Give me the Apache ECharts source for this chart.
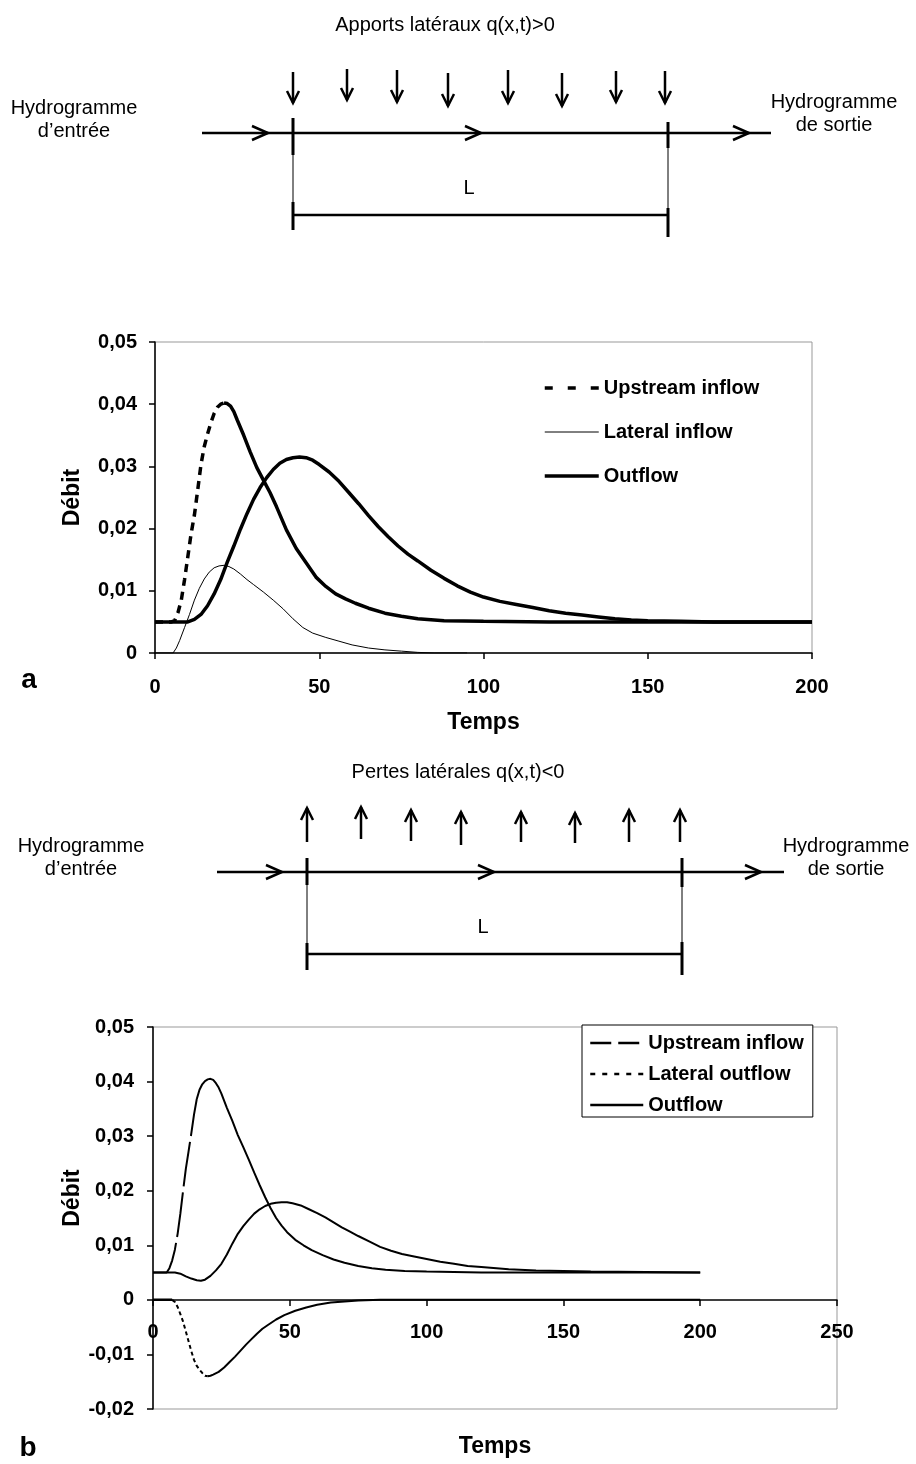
<!DOCTYPE html>
<html>
<head>
<meta charset="utf-8">
<title>Hydrogrammes - apports et pertes latéraux</title>
<script src="https://cdn.jsdelivr.net/npm/echarts@6/dist/echarts.min.js"></script>
<style>
  html, body { margin: 0; padding: 0; background: #fff; }
  #main { width: 916px; height: 1464px; }
</style>
</head>
<body>
<div id="main"></div>
<script>
// ---- data, pairs of [temps, débit] ----
// figure a : apports latéraux q(x,t)>0
const upstreamA_rise = [[0,0.005],[5,0.005],[6,0.0052],[7,0.0065],[8,0.0085],[9,0.0118],[10,0.0155],[11,0.0192],[12,0.0222],[13,0.0262],[14,0.0303],[15,0.0332],[16,0.0352],[17,0.037],[18,0.0385],[19,0.0395],[20,0.04],[21,0.0402]];
const upstreamA_fall = [[21,0.0402],[22,0.0401],[23,0.0397],[24,0.0388],[25,0.0375],[27,0.035],[29,0.0323],[31,0.0298],[33,0.0278],[35,0.0258],[37,0.0235],[40,0.0198],[43,0.0168],[46,0.0145],[49,0.0122],[52,0.0107],[55,0.0095],[58,0.0087],[61,0.008],[65,0.0072],[70,0.0064],[75,0.0059],[80,0.0055],[88,0.0052],[100,0.0051],[120,0.005],[200,0.005]];
const lateralA = [[0,0],[5.5,0],[6.5,0.0008],[7.5,0.002],[9,0.0041],[10.5,0.0062],[12,0.0085],[13.5,0.0104],[15,0.0119],[16.5,0.013],[18,0.0137],[19.5,0.014],[21,0.0141],[22.5,0.0139],[24,0.0135],[26,0.0127],[28,0.0118],[30,0.011],[33,0.0098],[36,0.0085],[39,0.0071],[42,0.0055],[45,0.0041],[48,0.0032],[52,0.0025],[56,0.0019],[60,0.0013],[65,0.0008],[70,0.0005],[75,0.0003],[80,0.0001],[85,0],[95,0]];
const outflowA = [[0,0.005],[8,0.005],[10,0.005],[12,0.0054],[14,0.0062],[16,0.0076],[18,0.0095],[20,0.0118],[22,0.0146],[24,0.0172],[26,0.0199],[28,0.0224],[30,0.0247],[32,0.0266],[34,0.0282],[36,0.0295],[38,0.0305],[40,0.0311],[42,0.0314],[44,0.0315],[46,0.0314],[48,0.031],[50,0.0303],[53,0.0291],[56,0.0276],[59,0.0258],[62,0.024],[65,0.0221],[68,0.0203],[71,0.0187],[74,0.0172],[77,0.0159],[80,0.0148],[84,0.0133],[88,0.012],[92,0.0108],[96,0.0098],[100,0.009],[105,0.0083],[110,0.0078],[115,0.0073],[120,0.0068],[125,0.0064],[130,0.0061],[135,0.0058],[140,0.0055],[145,0.0053],[150,0.0052],[160,0.0051],[170,0.005],[200,0.005]];

// figure b : pertes latérales q(x,t)<0
const upstreamB_rise = [[0,0.005],[5,0.005],[6,0.0058],[7,0.0072],[8,0.0092],[9,0.0121],[10,0.0158],[11,0.02],[12,0.024],[13,0.0272],[14,0.0305],[15,0.034],[16,0.0368]];
const upstreamB_fall = [[16,0.0368],[17,0.0385],[18,0.0395],[19,0.0401],[20,0.0404],[21,0.0405],[22,0.0403],[23,0.0397],[24,0.0389],[25,0.0378],[27,0.0352],[29,0.0328],[31,0.0302],[33,0.028],[35,0.0257],[37,0.0233],[39,0.021],[41,0.0188],[43,0.0168],[45,0.015],[47,0.0136],[49,0.0124],[52,0.011],[55,0.01],[58,0.0091],[62,0.0082],[66,0.0074],[70,0.0068],[75,0.0062],[80,0.0058],[85,0.0055],[92,0.0053],[100,0.0052],[120,0.005],[200,0.005]];
const lateralB_head = [[0,0],[7,0]];
const lateralB_drop = [[7,0],[8,-0.0004],[9,-0.0013],[10,-0.0026],[11,-0.004],[12,-0.0058],[13,-0.0076],[14,-0.0094],[15,-0.011],[16,-0.0121],[17,-0.0128],[18,-0.0134],[19,-0.0139],[20,-0.014]];
const lateralB_tail = [[20,-0.014],[21,-0.0139],[22,-0.0137],[24,-0.0132],[26,-0.0124],[28,-0.0114],[30,-0.0104],[32,-0.0093],[34,-0.0082],[36,-0.0072],[38,-0.0062],[40,-0.0053],[42,-0.0046],[45,-0.0036],[48,-0.0028],[52,-0.002],[56,-0.0014],[60,-0.0009],[65,-0.0005],[70,-0.0003],[75,-0.0001],[83,0],[200,0]];
const outflowB = [[0,0.005],[6,0.005],[8,0.005],[10,0.0048],[12,0.0043],[14,0.0039],[16,0.0036],[17.5,0.0035],[19,0.0037],[21,0.0044],[23,0.0054],[25,0.0066],[27,0.0083],[29,0.0103],[31,0.0121],[33,0.0135],[35,0.0147],[37,0.0158],[39,0.0166],[41,0.0172],[43,0.0176],[45,0.0178],[47,0.0179],[49,0.0179],[51,0.0177],[54,0.0173],[57,0.0166],[60,0.0159],[63,0.0151],[66,0.0142],[69,0.0133],[72,0.0125],[75,0.0117],[79,0.0107],[83,0.0097],[87,0.009],[91,0.0084],[95,0.008],[100,0.0075],[105,0.007],[110,0.0066],[115,0.0062],[120,0.006],[130,0.0056],[140,0.0054],[150,0.0053],[160,0.0052],[200,0.005]];

// axis ticks
const xTicksA = [0, 50, 100, 150, 200];
const yTicksA = [0, 0.01, 0.02, 0.03, 0.04, 0.05];
const xTicksB = [0, 50, 100, 150, 200, 250];
const yTicksB = [-0.02, -0.01, 0, 0.01, 0.02, 0.03, 0.04, 0.05];

const FONT = "'Liberation Sans', Arial, Helvetica, sans-serif";
const black = '#000';

const gridA = { left: 155, top: 342, width: 657, height: 311 };
const gridB = { left: 153, top: 1027, width: 684, height: 382 };

const step = (t) => Math.round((t[1] - t[0]) * 1000) / 1000;
const fmt = (v) => (Math.abs(v) < 1e-9 ? '0' : v.toFixed(2).replace('.', ','));
// x axis of b crosses at débit = 0: shift it up from the bottom of the grid
const zeroShiftB = -Math.round((0 - yTicksB[0]) / (yTicksB[yTicksB.length - 1] - yTicksB[0]) * gridB.height);

function valueAxis(ticks, grid, extra) {
  return Object.assign({
    type: 'value',
    gridIndex: grid,
    min: ticks[0],
    max: ticks[ticks.length - 1],
    interval: step(ticks),
    splitLine: { show: false },
    axisLine: { onZero: false, lineStyle: { color: black, width: 1.5 } },
    axisTick: { inside: false, length: 6, lineStyle: { color: black, width: 1.5 } },
    axisLabel: { color: black, fontFamily: FONT, fontSize: 20, fontWeight: 'bold', formatter: fmt },
    nameTextStyle: { color: black, fontFamily: FONT, fontSize: 23, fontWeight: 'bold' }
  }, extra);
}

function line(name, data, grid, width, type) {
  return {
    name: name,
    type: 'line',
    xAxisIndex: grid,
    yAxisIndex: grid,
    data: data,
    symbol: 'none',
    color: black,
    lineStyle: { color: black, width: width, type: type || 'solid' },
    animation: false
  };
}

// ---- schematic drawings ----
function seg(x1, y1, x2, y2, w) {
  return { type: 'line', silent: true, shape: { x1: x1, y1: y1, x2: x2, y2: y2 }, style: { stroke: black, lineWidth: w } };
}
function chevron(x, y) {
  return { type: 'polyline', silent: true, shape: { points: [[x - 16, y - 7], [x, y], [x - 16, y + 7]] }, style: { stroke: black, fill: null, lineWidth: 2.5 } };
}
function vArrow(x, yFrom, yTip) {
  const d = yTip > yFrom ? -1 : 1;
  return [
    seg(x, yFrom, x, yTip, 2.5),
    { type: 'polyline', silent: true, shape: { points: [[x - 6, yTip + d * 12], [x, yTip], [x + 6, yTip + d * 12]] }, style: { stroke: black, fill: null, lineWidth: 2.5 } }
  ];
}
function txt(text, x, y, size, weight, rot) {
  return {
    type: 'text', silent: true, x: x, y: y, rotation: rot || 0,
    style: { text: text, fill: black, font: (weight || 'normal') + ' ' + size + 'px ' + FONT, align: 'center', verticalAlign: 'middle', lineHeight: 23 }
  };
}

const graphics = [];
// schéma a
graphics.push(txt('Apports latéraux q(x,t)>0', 445, 25, 20));
graphics.push(txt('Hydrogramme\nd’entrée', 74, 120, 20));
graphics.push(txt('Hydrogramme\nde sortie', 834, 114, 20));
graphics.push(seg(202, 133, 771, 133, 2.5));
[268, 481, 749].forEach(x => graphics.push(chevron(x, 133)));
const downX = [293, 347, 397, 448, 508, 562, 616, 665];
const downTop = [72, 69, 70, 73, 70, 73, 71, 71];
const downTip = [103, 100, 102, 106, 103, 106, 102, 103];
downX.forEach((x, i) => graphics.push(...vArrow(x, downTop[i], downTip[i])));
graphics.push(seg(293, 118, 293, 155, 3), seg(293, 155, 293, 202, 1), seg(293, 202, 293, 230, 3));
graphics.push(seg(668, 122, 668, 148, 3), seg(668, 148, 668, 208, 1), seg(668, 208, 668, 237, 3));
graphics.push(seg(293, 215, 668, 215, 2.5));
graphics.push(txt('L', 469, 188, 20));
// schéma b
graphics.push(txt('Pertes latérales q(x,t)<0', 458, 772, 20));
graphics.push(txt('Hydrogramme\nd’entrée', 81, 858, 20));
graphics.push(txt('Hydrogramme\nde sortie', 846, 858, 20));
graphics.push(seg(217, 872, 784, 872, 2.5));
[282, 494, 761].forEach(x => graphics.push(chevron(x, 872)));
const upX = [307, 361, 411, 461, 521, 575, 629, 680];
const upTip = [808, 807, 810, 812, 812, 813, 810, 810];
const upBottom = [842, 839, 841, 845, 842, 843, 842, 842];
upX.forEach((x, i) => graphics.push(...vArrow(x, upBottom[i], upTip[i])));
graphics.push(seg(307, 858, 307, 885, 3), seg(307, 885, 307, 943, 1), seg(307, 943, 307, 970, 3));
graphics.push(seg(682, 858, 682, 887, 3), seg(682, 887, 682, 942, 1), seg(682, 942, 682, 975, 3));
graphics.push(seg(307, 954, 682, 954, 2.5));
graphics.push(txt('L', 483, 927, 20));
// panel letters, titre d'axe b
graphics.push(txt('a', 29, 680, 28, 'bold'));
graphics.push(txt('b', 28, 1448, 28, 'bold'));
graphics.push(txt('Débit', 73, 1198, 23, 'bold', Math.PI / 2));

const legendText = { color: black, fontFamily: FONT, fontSize: 20, fontWeight: 'bold' };
const gridStyle = { show: true, borderColor: '#999', borderWidth: 1, backgroundColor: 'transparent', containLabel: false, outerBoundsMode: 'none' };

const option = {
  backgroundColor: '#fff',
  animation: false,
  textStyle: { fontFamily: FONT },
  grid: [
    Object.assign({}, gridA, gridStyle),
    Object.assign({}, gridB, gridStyle)
  ],
  xAxis: [
    valueAxis(xTicksA, 0, { name: 'Temps', nameLocation: 'middle', nameGap: 58, axisLabel: Object.assign({}, valueAxis(xTicksA, 0).axisLabel, { margin: 24, formatter: '{value}' }) }),
    valueAxis(xTicksB, 1, { offset: zeroShiftB, name: 'Temps', nameLocation: 'middle', nameGap: 135, axisLabel: Object.assign({}, valueAxis(xTicksB, 1).axisLabel, { margin: 22, formatter: '{value}' }) })
  ],
  yAxis: [
    valueAxis(yTicksA, 0, { name: 'Débit', nameLocation: 'middle', nameGap: 71, axisLabel: Object.assign({}, valueAxis(yTicksA, 0).axisLabel, { margin: 18 }) }),
    valueAxis(yTicksB, 1, { axisLabel: Object.assign({}, valueAxis(yTicksB, 1).axisLabel, { margin: 19 }) })
  ],
  legend: [
    {
      left: 543, top: 378, orient: 'vertical', padding: 0,
      itemWidth: 54, itemHeight: 20, itemGap: 24,
      itemStyle: { opacity: 0 },
      textStyle: legendText,
      data: [
        { name: 'Upstream inflow', lineStyle: { color: black, width: 3.5, type: [8, 15] } },
        { name: 'Lateral inflow', lineStyle: { color: black, width: 1, type: 'solid' } },
        { name: 'Outflow', lineStyle: { color: black, width: 3.5, type: 'solid' } }
      ]
    },
    {
      left: 582, top: 1025, orient: 'vertical', padding: [8, 9, 2, 7],
      borderColor: black, borderWidth: 1, backgroundColor: '#fff',
      itemWidth: 53, itemHeight: 20, itemGap: 11,
      itemStyle: { opacity: 0 },
      textStyle: legendText,
      data: [
        { name: 'Upstream inflow', lineStyle: { color: black, width: 2.5, type: [21, 7] } },
        { name: 'Lateral outflow', lineStyle: { color: black, width: 2.5, type: [5, 7] } },
        { name: 'Outflow', lineStyle: { color: black, width: 2.5, type: 'solid' } }
      ]
    }
  ],
  series: [
    // a
    line('Lateral inflow', lateralA, 0, 1),
    line('Upstream inflow', upstreamA_rise, 0, 3.5, [8, 6]),
    line('Upstream inflow', upstreamA_fall, 0, 3.5),
    line('Outflow', outflowA, 0, 3.5),
    // b
    line('Upstream inflow', upstreamB_rise, 1, 2, [45, 6]),
    line('Upstream inflow', upstreamB_fall, 1, 2),
    line('Lateral outflow', lateralB_drop, 1, 2, [4, 3]),
    line('Lateral outflow', lateralB_head, 1, 2.5),
    line('Lateral outflow', lateralB_tail, 1, 2),
    line('Outflow', outflowB, 1, 2)
  ],
  graphic: graphics
};

const myChart = echarts.init(document.getElementById('main'), null, { renderer: 'canvas' });
myChart.setOption(option);
</script>
</body>
</html>
